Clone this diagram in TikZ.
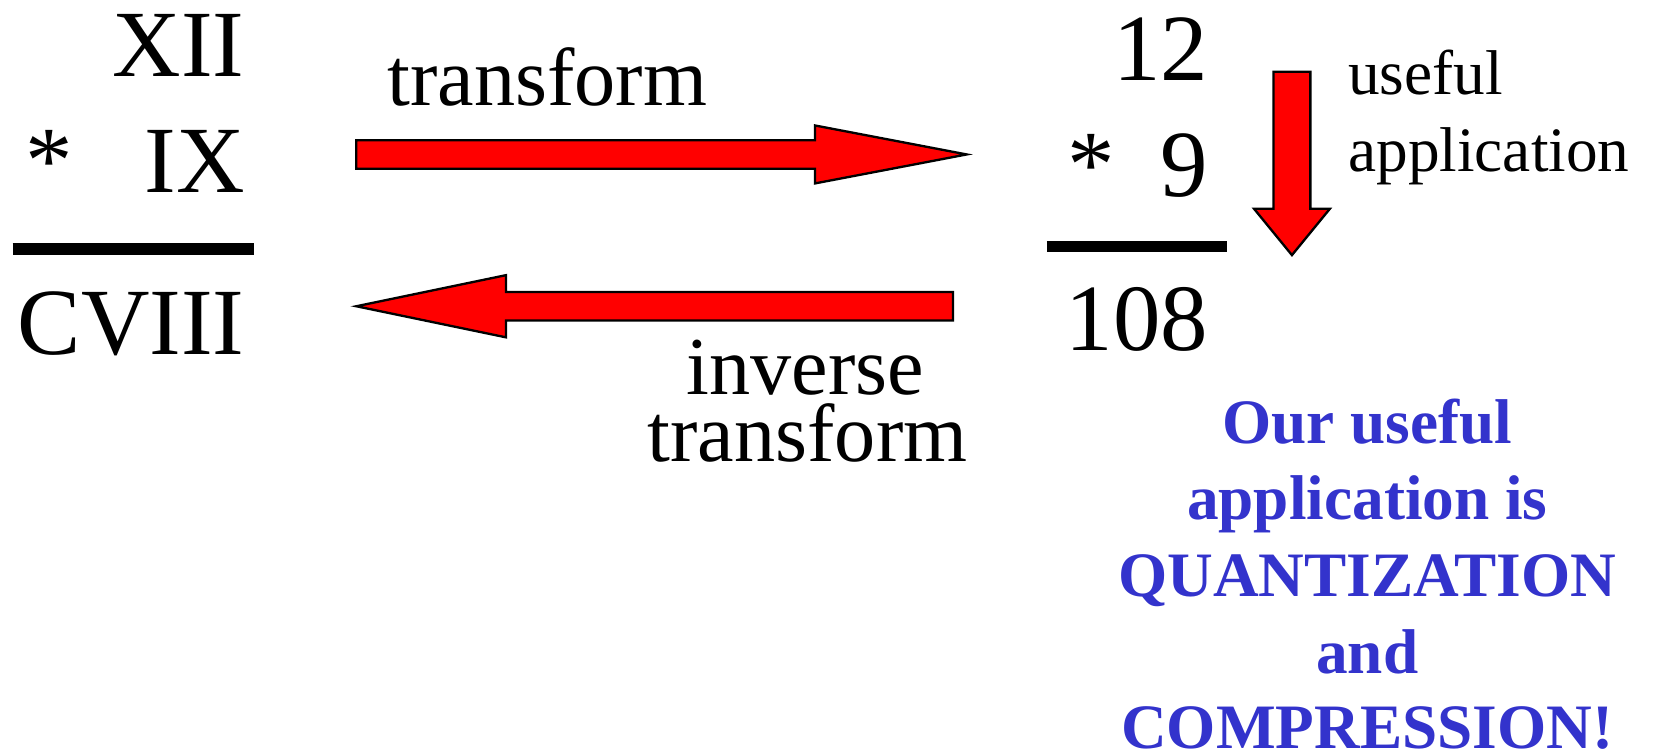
\documentclass[tikz,border=0pt]{standalone}
\usepackage{fontspec}
\setmainfont{LiberationSerif}[Extension=.ttf, UprightFont=*-Regular, BoldFont=*-Bold]
\usetikzlibrary{positioning}
\definecolor{appblue}{RGB}{51,51,204}

\begin{document}
\begin{tikzpicture}[x=1pt, y=-1pt, inner sep=0pt, outer sep=0pt]
    \tikzstyle{num}=[anchor=base east, font=\fontsize{90}{90}\selectfont]
    \tikzstyle{star}=[anchor=base west, font=\fontsize{90}{90}\selectfont]
    \tikzstyle{lbl}=[anchor=base, font=\fontsize{78}{78}\selectfont]
    \tikzstyle{small}=[anchor=base west, font=\fontsize{60}{60}\selectfont]
    \tikzstyle{note}=[anchor=base, text=appblue, font=\bfseries\fontsize{60}{60}\selectfont]
    \tikzstyle{bar}=[line width=11pt]
    \tikzstyle{blockarrow}=[fill=red, draw=black, line width=2.2pt, line join=miter]
    \useasboundingbox (0,0) rectangle (1568,715);

    % roman numerals
    \node[num] (xii) at (232,73) {XII};
    \node[num] (ix) at (232,183) {IX};
    \node[star] (starL) at (24,183) {*};
    \draw[bar] (12,236) -- (241,236);
    \node[num] (cviii) at (232,336) {CVIII};

    % arabic numerals
    \node[num] (twelve) at (1146,76) {12};
    \node[num] (nine) at (1146,186) {9};
    \node[star] (starR) at (1013,186) {*};
    \draw[bar] (993,234) -- (1164,234);
    \node[num] (prod) at (1146,332) {108};

    % transform / inverse transform
    \coordinate (fwdtail) at (338,146.5);
    \coordinate (invtip) at (338,290.5);
    \draw[blockarrow] (fwdtail) -- ++(0,-13.5) -- ++(435,0) -- ++(0,-14) -- ++(144,27.5)
        -- ++(-144,27.5) -- ++(0,-14) -- ++(-435,0) -- cycle;
    \draw[blockarrow] (invtip) -- ++(142,-29.5) -- ++(0,16) -- ++(424,0) -- ++(0,27)
        -- ++(-424,0) -- ++(0,16) -- cycle;
    \node[lbl] (fwd) at (519,100.5) {transform};
    \node[lbl] (inv1) at (764,374.5) {inverse};
    \node[lbl] (inv2) at (766,438) {transform};

    % useful application
    \coordinate (apptail) at (1225.5,68);
    \draw[blockarrow] (apptail) -- ++(17.5,0) -- ++(0,130) -- ++(18.5,0) -- ++(-36,44)
        -- ++(-36,-44) -- ++(18.5,0) -- ++(0,-130) -- cycle;
    \node[small] (use1) at (1279,89.5) {useful};
    \node[small] (use2) at (1279,163) {application};

    % remark
    \node[note] (n1) at (1297,421) {Our useful};
    \node[note] (n2) at (1297,493) {application is};
    \node[note] (n3) at (1297,566) {QUANTIZATION};
    \node[note] (n4) at (1297,639) {and};
    \node[note] (n5) at (1297,710) {COMPRESSION!};
\end{tikzpicture}
\end{document}
